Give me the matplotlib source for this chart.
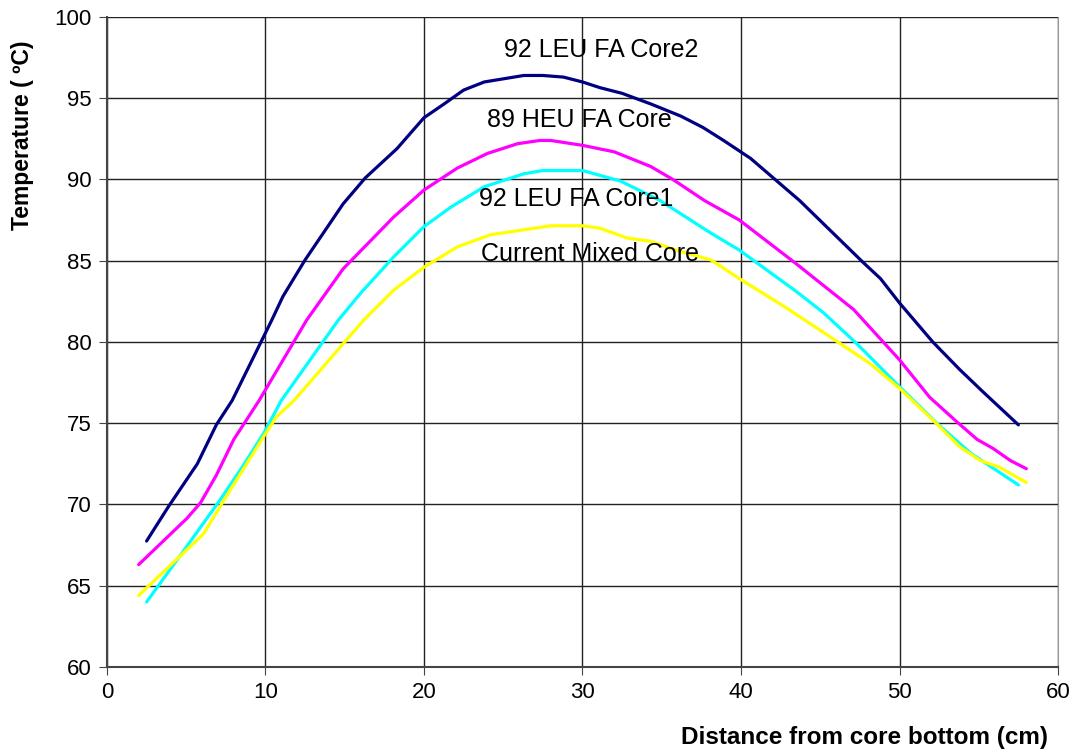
import matplotlib
matplotlib.use("Agg")
import matplotlib.pyplot as plt

plt.rcParams["font.family"] = ["Liberation Sans", "DejaVu Sans"]

# perfis de temperatura (x em cm, T em °C)
core2_x = [2.5, 3.9, 5.7, 6.9, 7.9, 10.4, 11.1, 12.5, 14.9, 16.3, 18.3, 20.0, 21.2,
           22.5, 23.8, 26.3, 27.5, 28.8, 30.0, 31.1, 32.5, 34.3, 36.2, 37.6, 38.9,
           40.6, 43.7, 47.7, 48.8, 50.0, 52.1, 53.8, 55.3, 57.5]
core2_t = [67.75, 69.9, 72.5, 74.9, 76.4, 81.35, 82.8, 85.05, 88.5, 90.1, 91.9, 93.8,
           94.6, 95.5, 96.0, 96.4, 96.4, 96.3, 96.0, 95.65, 95.3, 94.65, 93.9, 93.2,
           92.4, 91.3, 88.7, 84.9, 83.9, 82.4, 80.0, 78.3, 76.9, 74.9]

heu_x = [2.0, 5.05, 5.9, 6.9, 8.0, 8.8, 9.6, 12.6, 14.9, 18.1, 20.0, 22.1, 24.0,
         25.9, 27.3, 28.0, 30.0, 32.0, 34.3, 35.7, 37.7, 39.9, 43.5, 47.1, 50.0,
         51.9, 53.6, 54.9, 55.9, 57.0, 58.0]
heu_t = [66.3, 69.15, 70.1, 71.8, 74.0, 75.2, 76.4, 81.35, 84.5, 87.7, 89.35, 90.7,
         91.6, 92.2, 92.4, 92.4, 92.1, 91.7, 90.8, 90.0, 88.7, 87.5, 84.8, 82.0,
         78.9, 76.6, 75.1, 74.0, 73.45, 72.7, 72.2]

core1_x = [2.5, 4.8, 7.15, 8.6, 9.9, 11.0, 14.6, 16.0, 18.1, 20.0, 21.7, 23.8, 26.3,
           27.5, 30.0, 32.4, 34.9, 38.1, 39.9, 43.5, 45.2, 47.3, 50.0, 52.35, 54.5,
           57.5]
core1_t = [64.0, 67.1, 70.3, 72.4, 74.4, 76.4, 81.35, 83.0, 85.25, 87.1, 88.3, 89.55,
           90.35, 90.55, 90.55, 89.9, 88.7, 86.7, 85.65, 83.1, 81.8, 79.9, 77.25,
           75.0, 73.15, 71.2]

mixed_x = [2.0, 4.8, 6.1, 7.4, 9.9, 10.7, 11.8, 16.2, 18.1, 20.0, 22.1, 24.2, 28.0,
           30.0, 31.1, 32.8, 34.3, 35.9, 38.1, 39.9, 42.7, 45.8, 48.1, 50.0, 52.1,
           53.8, 55.1, 56.3, 58.0]
mixed_t = [64.4, 67.0, 68.2, 70.3, 74.2, 75.4, 76.4, 81.35, 83.2, 84.6, 85.85, 86.6,
           87.15, 87.15, 87.0, 86.4, 86.2, 85.65, 85.05, 83.9, 82.2, 80.2, 78.7,
           77.15, 75.2, 73.55, 72.7, 72.3, 71.35]

series = [
    (core2_x, core2_t, "#000080", "92 LEU FA Core2", (31.2, 97.95)),
    (heu_x, heu_t, "#ff00ff", "89 HEU FA Core", (29.8, 93.65)),
    (core1_x, core1_t, "#00ffff", "92 LEU FA Core1", (29.6, 88.8)),
    (mixed_x, mixed_t, "#ffff00", "Current Mixed Core", (30.5, 85.4)),
]

fig = plt.figure(figsize=(10.76, 7.54), dpi=100)
ax = fig.add_axes([0.0994, 0.1154, 0.8839, 0.8621])

for x, t, cor, nome, pos in series:
    ax.plot(x, t, color=cor, lw=2.3, solid_capstyle="round", zorder=3)
    ax.text(pos[0], pos[1], nome, ha="center", va="center", fontsize=18, zorder=4)

ax.set_xlim(0, 60)
ax.set_ylim(60, 100)
ax.set_xticks(range(0, 61, 10))
ax.set_yticks(range(60, 101, 5))
ax.grid(True, color="#222222", lw=1.0)
ax.set_axisbelow(True)
ax.tick_params(direction="out", length=6, labelsize=16, color="#444444", pad=5)
for s in ("left", "bottom"):
    ax.spines[s].set_color("#444444")
    ax.spines[s].set_linewidth(1.5)
ax.spines["right"].set_color("#999999")
ax.spines["top"].set_visible(False)

fig.text(0.974, 0.006, "Distance from core bottom (cm)", ha="right", va="bottom",
         fontsize=17.5, fontweight="bold")
fig.text(0.021, 0.82, "Temperature ( \u00baC)", ha="center", va="center",
         rotation=90, fontsize=16.5, fontweight="bold")

fig.savefig("out.png", dpi=100)
